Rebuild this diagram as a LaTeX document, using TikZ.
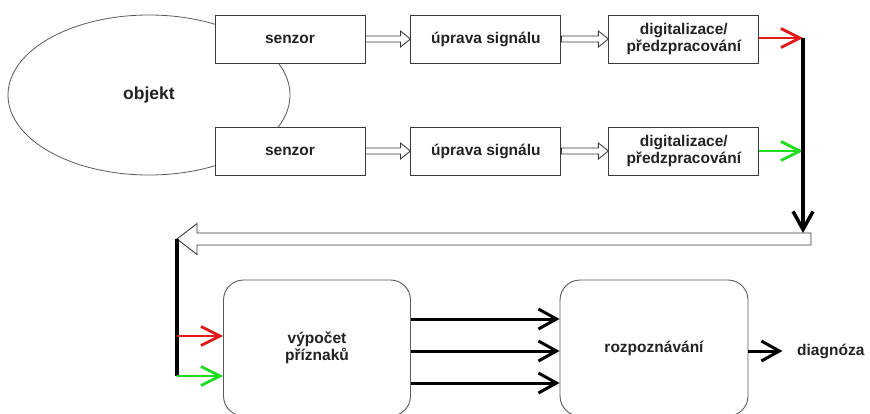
\documentclass[tikz,border=0pt]{standalone}
\usepackage{fontspec}
\setmainfont{Liberation Sans}
\usetikzlibrary{shapes.geometric, arrows.meta, positioning, calc}
\definecolor{dgRed}{HTML}{E41A1A}
\definecolor{dgGreen}{HTML}{20DC20}
\definecolor{dgEdge}{HTML}{3A3A3A}
\definecolor{dgSoft}{HTML}{5A5A5A}
\definecolor{dgText}{HTML}{222222}
\tikzset{
  dgbox/.style={rectangle, draw=dgEdge, line width=0.9pt, fill=white, text=dgText,
                font=\fontsize{15.5}{17}\selectfont\bfseries, align=center,
                minimum width=150pt, minimum height=48pt, inner sep=0pt},
  dground/.style={dgbox, draw=dgSoft, rounded corners=20pt,
                  minimum width=187pt, minimum height=136pt},
  dgfat/.style={draw=dgEdge, line width=0.9pt, fill=white},
  dgthin/.style={-{Straight Barb[length=19pt,width=19pt]}, line width=2.8pt},
  dgblk/.style={-{Straight Barb[length=18pt,width=20pt]}, line width=3pt, black},
}
% hollow (outlined) arrow: from, to, half shaft, half head, head length
\newcommand{\hollowarrow}[5]{%
  \coordinate (hb) at ($(#2)!#5!(#1)$);
  \draw[dgfat] ($(#1)!#3!90:(#2)$) -- ($(hb)!#3!90:(#2)$) -- ($(hb)!#4!90:(#2)$)
    -- (#2) -- ($(hb)!#4!-90:(#2)$) -- ($(hb)!#3!-90:(#2)$) -- ($(#1)!#3!-90:(#2)$) -- cycle;
}
\begin{document}
\begin{tikzpicture}[x=1pt, y=-1pt, node distance=45pt]
  \useasboundingbox (0,0) rectangle (870,413);
  \clip (0,0) rectangle (870,413);
  \node[ellipse, draw=dgSoft, line width=0.8pt, minimum width=282pt, minimum height=160pt,
        text=dgText, font=\fontsize{17.5}{19}\selectfont\bfseries](obj) at (149,95){objekt};
  % two sensor rows
  \node[dgbox](sen1) at (290,39){senzor};
  \node[dgbox, right=of sen1](upr1){úprava signálu};
  \node[dgbox, right=47pt of upr1](dig1){digitalizace/\\předzpracování};
  \node[dgbox](sen2) at (290,151){senzor};
  \node[dgbox, right=of sen2](upr2){úprava signálu};
  \node[dgbox, right=47pt of upr2](dig2){digitalizace/\\předzpracování};
  \hollowarrow{sen1.east}{upr1.west}{3pt}{8pt}{10pt}
  \hollowarrow{upr1.east}{dig1.west}{3pt}{8pt}{10pt}
  \hollowarrow{sen2.east}{upr2.west}{3pt}{8pt}{10pt}
  \hollowarrow{upr2.east}{dig2.west}{3pt}{8pt}{10pt}
  % collecting line and return bar
  \coordinate (rj) at (803,38);
  \coordinate (gj) at (803,151);
  \coordinate (bt) at (803,233);
  \coordinate (barR) at (811,239);
  \coordinate (barL) at (177,239);
  \coordinate (lb) at (177,376);
  \hollowarrow{barR}{barL}{6pt}{15.5pt}{20pt}
  \draw[dgthin, dgRed](dig1.east |- rj)--(rj);
  \draw[dgthin, dgGreen](dig2.east |- gj)--(gj);
  \draw[dgblk, line width=3.5pt](rj)--(bt);
  % lower part
  \node[dground](vyp) at (317,348){výpočet\\příznaků};
  \node[dground, minimum width=188pt](rozp) at (654,348){rozpoznávání};
  \node[font=\fontsize{15.5}{17}\selectfont\bfseries, text=dgText, anchor=west,
        inner sep=0pt](diag) at (797,351){diagnóza};
  \draw[line width=3.5pt](barL)--(lb);
  \coordinate (lr) at (177,336);
  \draw[dgthin, dgRed](lr)--(lr -| vyp.west);
  \draw[dgthin, dgGreen](lb)--(lb -| vyp.west);
  \foreach \dy in {29,-3,-35}
    \draw[dgblk]([yshift=\dy pt]vyp.east)--([yshift=\dy pt]rozp.west);
  \draw[dgblk]([yshift=-3pt]rozp.east)--++(34,0);
\end{tikzpicture}
\end{document}
